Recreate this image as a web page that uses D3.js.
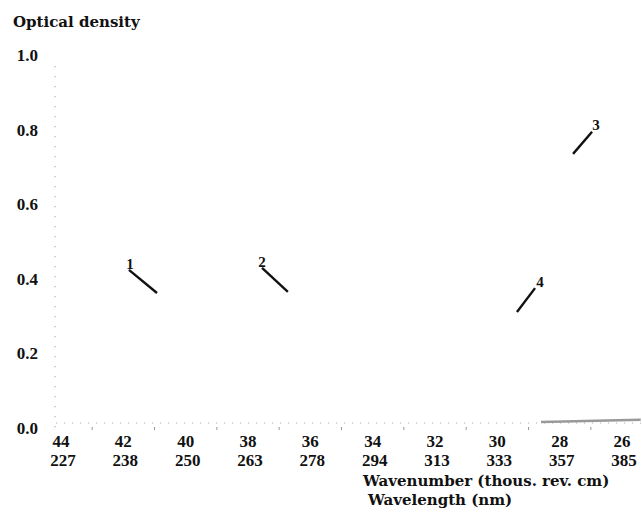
<!DOCTYPE html>
<html>
<head>
<meta charset="utf-8">
<script src="https://cdn.jsdelivr.net/npm/d3@7"></script>
<style>
  body { margin: 0; background: #fff; }
  svg { display: block; }
  text { font-family: "Liberation Serif", "DejaVu Serif", serif; font-weight: bold; fill: #111; }
  .title { font-family: "DejaVu Serif", serif; }
</style>
</head>
<body>
<div id="chart"></div>
<script>
// wavenumber ticks (thousand cm^-1) and matching wavelengths (nm)
const wavenumbers = [44, 42, 40, 38, 36, 34, 32, 30, 28, 26];
const wavelengths = [227, 238, 250, 263, 278, 294, 313, 333, 357, 385];
const odTicks = [0.0, 0.2, 0.4, 0.6, 0.8, 1.0];

// short spectral segments, labelled 1..4 : [wavenumber, optical density]
const seriesNames = ['1', '2', '3', '4'];
const series1 = [[41.82, 0.424], [40.92, 0.362]];
const series2 = [[37.55, 0.429], [36.72, 0.365]];
const series3 = [[27.57, 0.735], [26.96, 0.794]];
const series4 = [[29.37, 0.311], [28.79, 0.375]];
// faint baseline trace near zero at the low-wavenumber end
const baseline = [[28.6, 0.016], [27.5, 0.018], [26.5, 0.020], [25.4, 0.022]];

const width = 642, height = 512;

const svg = d3.select('#chart').append('svg')
  .attr('width', width)
  .attr('height', height);

const x = d3.scaleLinear().domain([44, 26]).range([61, 622]);
const y = d3.scaleLinear().domain([0, 1]).range([428, 55]);

// y axis: faint dotted line, labels to the left
svg.append('line')
  .attr('x1', 55).attr('x2', 55)
  .attr('y1', y(0.97)).attr('y2', y(0) + 2)
  .attr('stroke', '#888')
  .attr('stroke-width', 1)
  .attr('stroke-dasharray', '1,9');

svg.selectAll('.ylab')
  .data(odTicks)
  .join('text')
    .attr('class', 'ylab')
    .attr('x', 38)
    .attr('y', d => y(d) + 6)
    .attr('text-anchor', 'end')
    .style('font-size', '17px')
    .text(d => d.toFixed(1));

svg.append('text')
  .attr('class', 'title')
  .attr('x', 13)
  .attr('y', 27)
  .style('font-size', '15px')
  .text('Optical density');

// x axis: faint dotted baseline with small ticks
svg.append('line')
  .attr('x1', 56).attr('x2', width)
  .attr('y1', y(0) - 5).attr('y2', y(0) - 5)
  .attr('stroke', '#aaa')
  .attr('stroke-width', 1)
  .attr('stroke-dasharray', '1,7');

svg.selectAll('.xtick')
  .data(d3.range(43, 26, -2))
  .join('line')
    .attr('class', 'xtick')
    .attr('x1', d => x(d)).attr('x2', d => x(d))
    .attr('y1', y(0) - 1).attr('y2', y(0) + 2)
    .attr('stroke', '#999')
    .attr('stroke-width', 1);

svg.selectAll('.xlab')
  .data(wavenumbers)
  .join('text')
    .attr('class', 'xlab')
    .attr('x', d => x(d))
    .attr('y', 447)
    .attr('text-anchor', 'middle')
    .style('font-size', '17px')
    .text(d => d);

svg.selectAll('.wlab')
  .data(wavelengths)
  .join('text')
    .attr('class', 'wlab')
    .attr('x', (d, i) => x(wavenumbers[i]) + 2)
    .attr('y', 466)
    .attr('text-anchor', 'middle')
    .style('font-size', '17px')
    .text(d => d);

svg.append('text')
  .attr('class', 'title')
  .attr('x', 363)
  .attr('y', 486)
  .style('font-size', '15px')
  .text('Wavenumber  (thous. rev. cm)');

svg.append('text')
  .attr('class', 'title')
  .attr('x', 368)
  .attr('y', 505)
  .style('font-size', '15px')
  .text('Wavelength  (nm)');

const line = d3.line()
  .x(d => x(d[0]))
  .y(d => y(d[1]));

svg.append('path')
  .datum(baseline)
  .attr('d', line)
  .attr('fill', 'none')
  .attr('stroke', '#999')
  .attr('stroke-width', 2.5);

const allSeries = [series1, series2, series3, series4];

svg.selectAll('.seg')
  .data(allSeries)
  .join('path')
    .attr('class', 'seg')
    .attr('d', line)
    .attr('fill', 'none')
    .attr('stroke', '#111')
    .attr('stroke-width', 2.4);

// labels sit at the upper end of each segment
const labelOffsets = [[1, -1], [0, -1], [4, -2], [5, -1]];
svg.selectAll('.seglab')
  .data(allSeries)
  .join('text')
    .attr('class', 'seglab')
    .attr('x', (d, i) => {
      const top = d[0][1] > d[1][1] ? d[0] : d[1];
      return x(top[0]) + labelOffsets[i][0];
    })
    .attr('y', (d, i) => {
      const top = d[0][1] > d[1][1] ? d[0] : d[1];
      return y(top[1]) + labelOffsets[i][1];
    })
    .attr('text-anchor', 'middle')
    .style('font-size', '15px')
    .text((d, i) => seriesNames[i]);
</script>
</body>
</html>
